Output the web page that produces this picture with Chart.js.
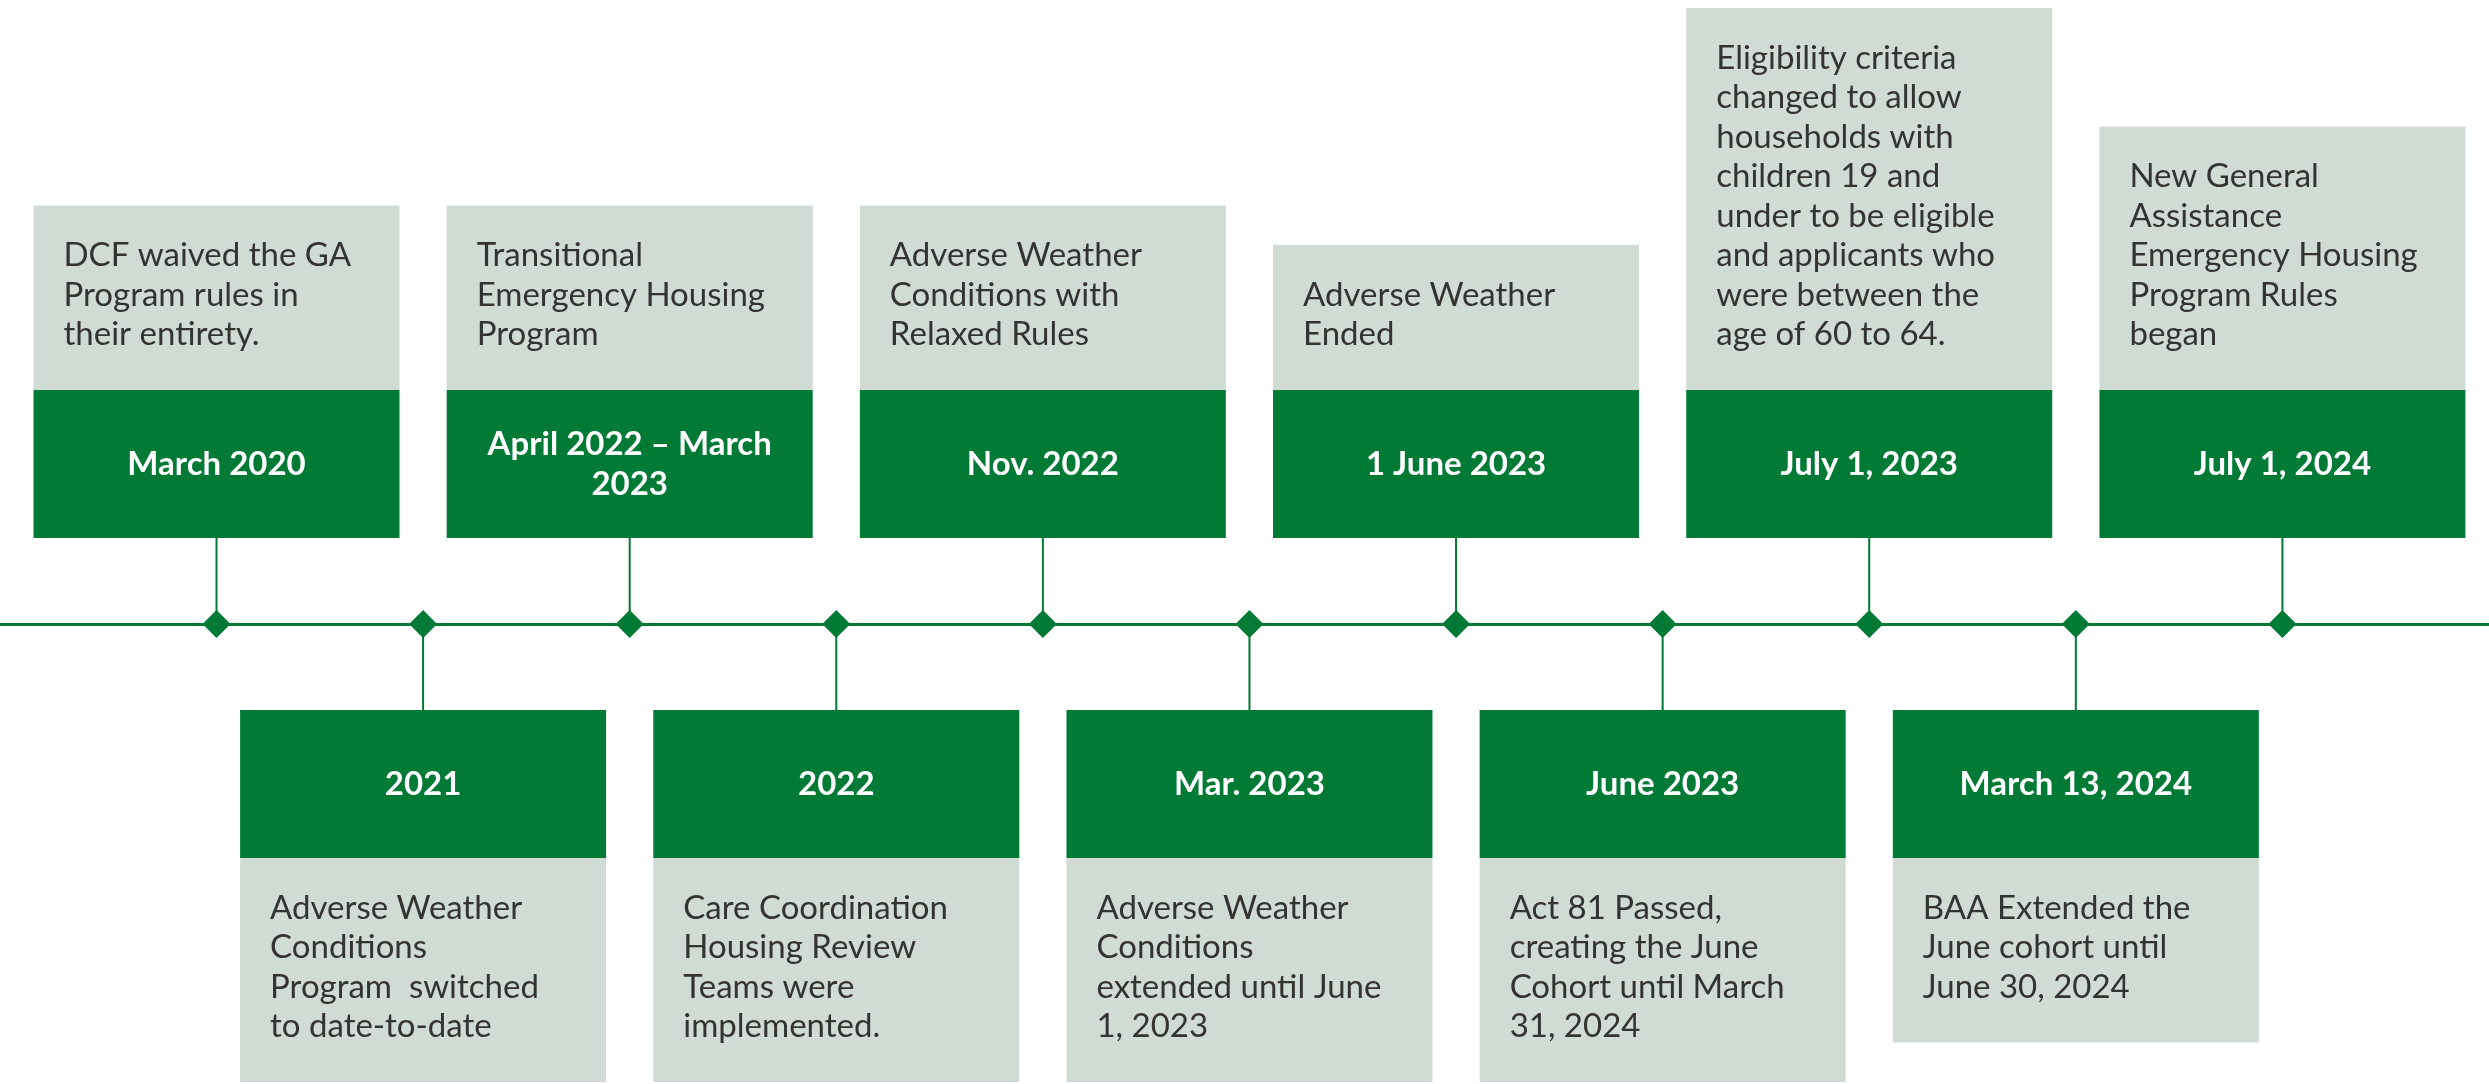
<!DOCTYPE html>
<html lang="en">
<head>
    <meta charset="UTF-8">
    <title>GA Emergency Housing Timeline</title>
    <script src="https://cdn.jsdelivr.net/npm/chart.js"></script>
    <style>
        html, body { margin: 0; padding: 0; background: #ffffff; }
        #wrap { width: 2489px; height: 1084px; position: relative; }
    </style>
</head>
<body>
    <div id="wrap">
        <canvas id="timelineChart"></canvas>
    </div>

    <script>
        // Timeline events, left to right
        const dateLabels = [
            ['March 2020'],
            ['2021'],
            ['April 2022 \u2013 March', '2023'],
            ['2022'],
            ['Nov. 2022'],
            ['Mar. 2023'],
            ['1 June 2023'],
            ['June 2023'],
            ['July 1, 2023'],
            ['March 13, 2024'],
            ['July 1, 2024']
        ];

        const descriptions = [
            ['DCF waived the GA', 'Program rules in', 'their entirety.'],
            ['Adverse Weather', 'Conditions', 'Program  switched', 'to date-to-date'],
            ['Transitional', 'Emergency Housing', 'Program'],
            ['Care Coordination', 'Housing Review', 'Teams were', 'implemented.'],
            ['Adverse Weather', 'Conditions with', 'Relaxed Rules'],
            ['Adverse Weather', 'Conditions', 'extended until June', '1, 2023'],
            ['Adverse Weather', 'Ended'],
            ['Act 81 Passed,', 'creating the June', 'Cohort until March', '31, 2024'],
            ['Eligibility criteria', 'changed to allow', 'households with', 'children 19 and',
             'under to be eligible', 'and applicants who', 'were between the', 'age of 60 to 64.'],
            ['BAA Extended the', 'June cohort until', 'June 30, 2024'],
            ['New General', 'Assistance', 'Emergency Housing', 'Program Rules', 'began']
        ];

        const sides = ['top', 'bottom', 'top', 'bottom', 'top', 'bottom',
                       'top', 'bottom', 'top', 'bottom', 'top'];

        // colours
        const green = '#017a36';
        const gray = '#d0dbd3';
        const textColor = '#333333';

        // box layout in pixels
        const boxWidth = 366;
        const bandHeight = 148;
        const stemLength = 86;
        const lineHeight = 39.5;
        const textTop = 50;
        const textLeft = 30;

        // draws the boxes, stems and texts at each event's x position
        const boxesPlugin = {
            id: 'timelineBoxes',
            beforeDatasetsDraw(chart) {
                const ctx = chart.ctx;
                const xScale = chart.scales.x;
                const y0 = chart.scales.y.getPixelForValue(0);

                descriptions.forEach((lines, i) => {
                    const cx = xScale.getPixelForValue(i);
                    const left = cx - boxWidth / 2;
                    const grayHeight = 66 + lineHeight * lines.length;
                    let bandTop, grayTop, stemFrom;

                    if (sides[i] === 'top') {
                        bandTop = y0 - stemLength - bandHeight;
                        grayTop = bandTop - grayHeight;
                        stemFrom = bandTop + bandHeight;
                    } else {
                        bandTop = y0 + stemLength;
                        grayTop = bandTop + bandHeight;
                        stemFrom = bandTop;
                    }

                    ctx.save();
                    // stem
                    ctx.strokeStyle = green;
                    ctx.lineWidth = 2;
                    ctx.beginPath();
                    ctx.moveTo(cx, stemFrom);
                    ctx.lineTo(cx, y0);
                    ctx.stroke();

                    // boxes
                    ctx.fillStyle = gray;
                    ctx.fillRect(left, grayTop, boxWidth, grayHeight);
                    ctx.fillStyle = green;
                    ctx.fillRect(left, bandTop, boxWidth, bandHeight);

                    // date title
                    const title = dateLabels[i];
                    ctx.fillStyle = '#ffffff';
                    ctx.font = 'bold 33px Lato';
                    ctx.textAlign = 'center';
                    ctx.textBaseline = 'middle';
                    const titleMid = bandTop + bandHeight / 2;
                    title.forEach((t, k) => {
                        const ty = titleMid + (k - (title.length - 1) / 2) * 40;
                        ctx.fillText(t, cx, ty);
                    });

                    // description
                    ctx.fillStyle = textColor;
                    ctx.font = '33px Lato';
                    ctx.textAlign = 'left';
                    lines.forEach((t, k) => {
                        ctx.fillText(t, left + textLeft, grayTop + textTop + k * lineHeight);
                    });
                    ctx.restore();
                });
            }
        };

        new Chart(document.getElementById('timelineChart'), {
            type: 'scatter',
            data: {
                datasets: [{
                    label: 'Events',
                    data: descriptions.map((d, i) => ({ x: i, y: 0 })),
                    pointStyle: 'rectRot',
                    pointRadius: 14,
                    pointHoverRadius: 14,
                    backgroundColor: green,
                    borderWidth: 0
                }]
            },
            options: {
                responsive: true,
                maintainAspectRatio: false,
                animation: false,
                events: [],
                layout: { padding: 0, autoPadding: false },
                plugins: {
                    legend: { display: false },
                    tooltip: { enabled: false }
                },
                scales: {
                    x: {
                        type: 'linear',
                        min: -1.048,
                        max: 11.0,
                        position: { y: 0 },
                        grid: { display: false },
                        ticks: { display: false },
                        border: { color: green, width: 3 }
                    },
                    y: {
                        display: false,
                        min: -460,
                        max: 624
                    }
                }
            },
            plugins: [boxesPlugin]
        });
    </script>
</body>
</html>
